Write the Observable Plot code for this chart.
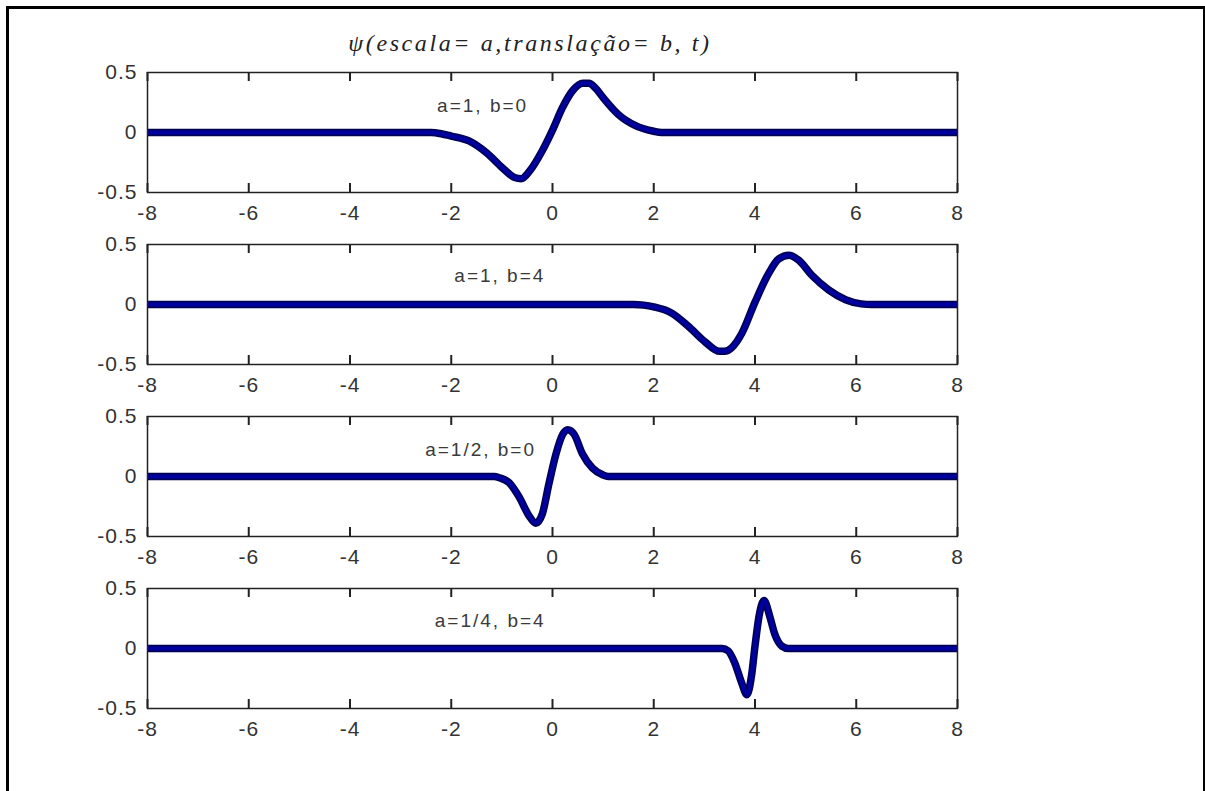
<!DOCTYPE html>
<html>
<head>
<meta charset="utf-8">
<script src="https://cdn.jsdelivr.net/npm/d3@7"></script>
<script src="https://cdn.jsdelivr.net/npm/@observablehq/plot@0.6"></script>
<style>
  html, body { margin: 0; padding: 0; background: white; }
  body { width: 1205px; height: 791px; position: relative; overflow: hidden; }
  #frame { position: absolute; left: 6px; top: 6px; width: 1199px; height: 820px; box-sizing: border-box;
           border-left: 3px solid #000; border-top: 3px solid #000; border-right: 2px solid #000; }
  #title { position: absolute; left: 330px; width: 400px; top: 31px; text-align: center;
           font-family: "Liberation Serif", "DejaVu Serif", serif; font-style: italic; font-size: 24px;
           line-height: 24px; letter-spacing: 2.6px; color: #222; white-space: nowrap; }
  .panel { position: absolute; left: 0; }
  .panel svg text { letter-spacing: 1px; }
  .panel g[aria-label="text"] text { letter-spacing: 2px; }
</style>
</head>
<body>
<div id="frame"></div>
<div id="title">ψ(escala= a,translação= b, t)</div>
<div id="charts"></div>
<script>
// ---- data ----
const xTicks = [-8, -6, -4, -2, 0, 2, 4, 6, 8];
const yTicks = [-0.5, 0, 0.5];
const labels = ["a=1, b=0", "a=1, b=4", "a=1/2, b=0", "a=1/4, b=4"];

const t1 = [-8, -2.4, -2.2, -2.0, -1.65, -1.3, -1.0, -0.75, -0.62, -0.45, -0.2, 0, 0.2, 0.4, 0.6, 0.72, 0.85, 1.0, 1.3, 1.65, 2.0, 2.15, 8];
const v1 = [0, 0, -0.01, -0.03, -0.07, -0.17, -0.29, -0.375, -0.385, -0.32, -0.15, 0.02, 0.21, 0.35, 0.41, 0.41, 0.37, 0.29, 0.15, 0.055, 0.01, 0, 0];

const t2 = [-8, 1.6, 1.8, 2.0, 2.35, 2.68, 3.01, 3.3, 3.4, 3.54, 3.74, 4.0, 4.27, 4.47, 4.67, 4.86, 5.13, 5.46, 5.79, 6.1, 6.3, 8];
const v2 = [0, 0, -0.005, -0.02, -0.07, -0.18, -0.31, -0.39, -0.39, -0.36, -0.24, 0.02, 0.26, 0.38, 0.41, 0.37, 0.24, 0.12, 0.04, 0.005, 0, 0];

const t3 = [-8, -1.15, -1.05, -0.86, -0.66, -0.46, -0.33, -0.2, -0.07, 0.07, 0.2, 0.3, 0.43, 0.59, 0.79, 0.99, 1.1, 8];
const v3 = [0, 0, -0.01, -0.05, -0.17, -0.33, -0.39, -0.31, -0.06, 0.19, 0.35, 0.39, 0.35, 0.19, 0.07, 0.015, 0, 0];

const t4 = [-8, 3.35, 3.47, 3.6, 3.74, 3.84, 3.93, 4.0, 4.08, 4.18, 4.29, 4.39, 4.53, 4.66, 8];
const v4 = [0, 0, -0.02, -0.12, -0.29, -0.385, -0.23, 0.02, 0.27, 0.4, 0.27, 0.12, 0.02, 0, 0];

const series = [[t1, v1], [t2, v2], [t3, v3], [t4, v4]];
// annotation anchor (data coordinates) for each panel's label
const labelX = [-1.38, -1.04, -1.42, -1.23];
const labelY = [0.22, 0.235, 0.22, 0.23];

const fmt = d => String(d);

function panel([t, v], i) {
  const data = t.map((x, k) => ({t: x, v: v[k]}));
  return Plot.plot({
    width: 1000, height: 172,
    marginLeft: 147, marginRight: 43, marginTop: 12, marginBottom: 40,
    x: {domain: [-8, 8], label: null},
    y: {domain: [-0.5, 0.5], label: null},
    style: {fontFamily: "'Liberation Sans', Arial, sans-serif", fontSize: "21px", color: "#333", background: "transparent", overflow: "visible"},
    marks: [
      Plot.line(data, {x: "t", y: "v", curve: "monotone-x", stroke: "#000055", strokeWidth: 7.5, clip: true}),
      Plot.line(data, {x: "t", y: "v", curve: "monotone-x", stroke: "#0000a0", strokeWidth: 4, clip: true}),
      // inward tick marks on the bottom and top edges of the box
      Plot.tickX(xTicks, {x: d => d, insetTop: 111, stroke: "#222", strokeWidth: 2}),
      Plot.tickX(xTicks, {x: d => d, insetBottom: 111, stroke: "#222", strokeWidth: 2}),
      Plot.frame({stroke: "#222", strokeWidth: 1.5}),
      Plot.axisX(xTicks, {anchor: "bottom", tickSize: 0, tickPadding: 13, tickFormat: fmt, fill: "#333"}),
      Plot.axisY(yTicks, {anchor: "left", tickSize: 0, tickPadding: 10, tickFormat: fmt, fill: "#333"}),
      Plot.text([labels[i]], {x: labelX[i], y: labelY[i], text: d => d, fontSize: 19, fill: "#3a3a3a", textAnchor: "middle"})
    ]
  });
}

const holder = document.getElementById("charts");
series.forEach((s, i) => {
  const div = document.createElement("div");
  div.className = "panel";
  div.style.top = (60 + 172 * i) + "px";
  div.appendChild(panel(s, i));
  holder.appendChild(div);
});
</script>
</body>
</html>
